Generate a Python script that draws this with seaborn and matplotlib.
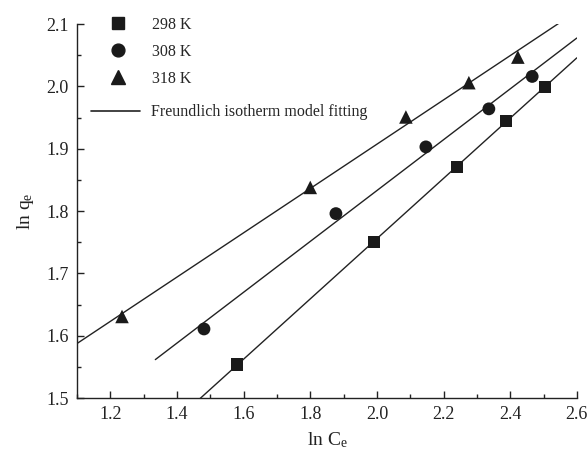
import numpy as np
import pandas as pd
import matplotlib
matplotlib.use("Agg")
import matplotlib.pyplot as plt
from matplotlib.lines import Line2D
from matplotlib.ticker import MultipleLocator, FormatStrFormatter
import seaborn as sns

# ln Ce / ln qe data at three temperatures
lnCe_298 = [1.580, 1.992, 2.240, 2.387, 2.504]
lnqe_298 = [1.554, 1.750, 1.871, 1.945, 1.999]
lnCe_308 = [1.481, 1.877, 2.147, 2.336, 2.466]
lnqe_308 = [1.611, 1.796, 1.903, 1.964, 2.016]
lnCe_318 = [1.235, 1.800, 2.087, 2.276, 2.423]
lnqe_318 = [1.631, 1.838, 1.951, 2.006, 2.047]
temps = ["298 K", "308 K", "318 K"]

sns.set_theme(style="ticks")
plt.rcParams["font.family"] = ["Liberation Serif", "DejaVu Serif"]
plt.rcParams["mathtext.fontset"] = "custom"
plt.rcParams["mathtext.rm"] = "Liberation Serif"
plt.rcParams["mathtext.it"] = "Liberation Serif:italic"

df = pd.DataFrame({
    "lnCe": lnCe_298 + lnCe_308 + lnCe_318,
    "lnqe": lnqe_298 + lnqe_308 + lnqe_318,
    "T": [temps[0]] * 5 + [temps[1]] * 5 + [temps[2]] * 5,
})

fig = plt.figure(figsize=(5.88, 4.54), dpi=100)
ax = fig.add_axes([0.131, 0.123, 0.850, 0.824])

markers = {"298 K": "s", "308 K": "o", "318 K": "^"}
sizes = {"298 K": 75, "308 K": 85, "318 K": 95}

# Freundlich linear fits
line_start = {"298 K": 1.45, "308 K": 1.335, "318 K": 1.1}
for t in temps:
    sub = df[df["T"] == t]
    k, b = np.polyfit(sub["lnCe"], sub["lnqe"], 1)
    xs = np.array([line_start[t], 2.6])
    ax.plot(xs, k * xs + b, color="#222222", lw=1.0, zorder=2)

for t in temps:
    sub = df[df["T"] == t]
    sns.scatterplot(data=sub, x="lnCe", y="lnqe", marker=markers[t],
                    s=sizes[t], color="#1a1a1a", edgecolor="none",
                    ax=ax, zorder=3, legend=False)

ax.set_xlim(1.1, 2.6)
ax.set_ylim(1.5, 2.1)
ax.xaxis.set_major_locator(MultipleLocator(0.2))
ax.xaxis.set_minor_locator(MultipleLocator(0.1))
ax.yaxis.set_major_locator(MultipleLocator(0.1))
ax.yaxis.set_minor_locator(MultipleLocator(0.05))
ax.xaxis.set_major_formatter(FormatStrFormatter("%.1f"))
ax.yaxis.set_major_formatter(FormatStrFormatter("%.1f"))
ax.tick_params(which="both", direction="in", color="#222222", width=1.0)
ax.tick_params(which="major", length=5, labelsize=13, colors="#222222", pad=6)
ax.tick_params(which="minor", length=3)
sns.despine(ax=ax)
for s in ["left", "bottom"]:
    ax.spines[s].set_color("#222222")
    ax.spines[s].set_linewidth(1.0)

ax.set_xlabel(r"ln C$_\mathrm{e}$", fontsize=14, color="#222222", labelpad=5)
ax.set_ylabel(r"ln q$_\mathrm{e}$", fontsize=14, color="#222222", labelpad=7)

handles = [Line2D([], [], ls="none", marker=markers[t], color="#1a1a1a",
                  markersize=np.sqrt(sizes[t]) * 1.0) for t in temps]
leg1 = ax.legend(handles, temps, loc="upper left", bbox_to_anchor=(0.05, 1.037),
                 frameon=False, fontsize=11.5, handlelength=1.2, handletextpad=1.5,
                 labelspacing=0.7, borderaxespad=0)
ax.add_artist(leg1)
ax.legend([Line2D([], [], color="#222222", lw=1.2)],
          ["Freundlich isotherm model fitting"], loc="upper left",
          bbox_to_anchor=(0.016, 0.803), frameon=False, fontsize=11.5,
          handlelength=3.05, handletextpad=0.7, borderaxespad=0)

fig.savefig("out.png", dpi=100)
